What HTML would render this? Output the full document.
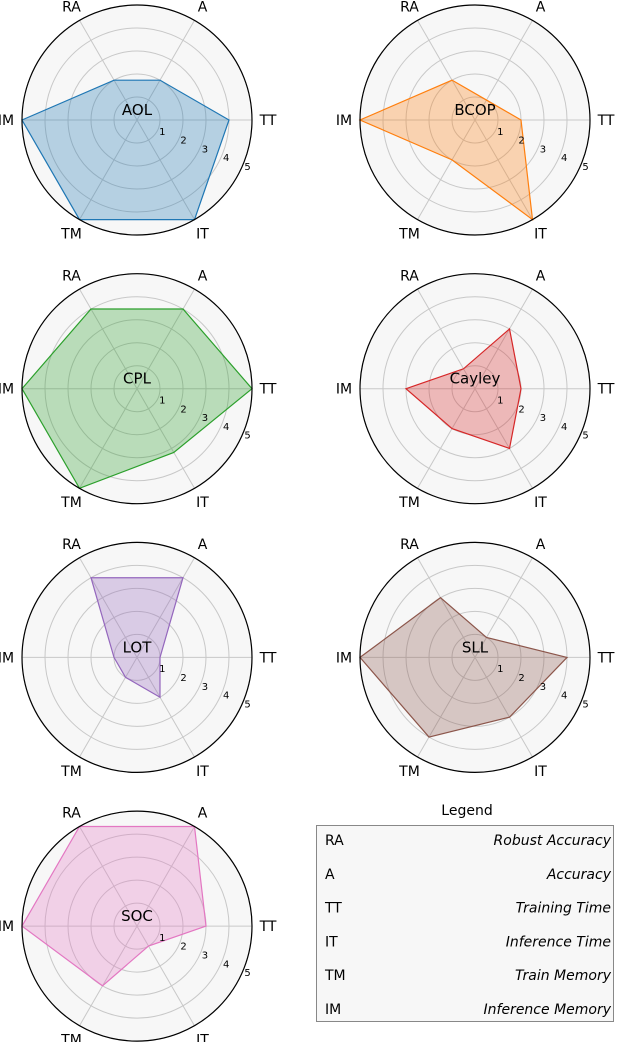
<!DOCTYPE html>
<html><head><meta charset="utf-8"><style>
body{margin:0;background:#fff;}
svg{display:block;font-family:"DejaVu Sans","Liberation Sans",sans-serif;}
</style></head><body>
<svg id="s" width="618" height="1042" viewBox="0 0 618 1042"></svg>
<script>
const axisLabels=["TT","A","RA","IM","TM","IT"];
const methods=["AOL","BCOP","CPL","Cayley","LOT","SLL","SOC"];
const colors=["#1f77b4","#ff7f0e","#2ca02c","#d62728","#9467bd","#8c564b","#e377c2"];
// values in order TT, A, RA, IM, TM, IT
const valAOL=[4,2,2,5,5,5];
const valBCOP=[2,1,2,5,2,5];
const valCPL=[5,4,4,5,5,3.2];
const valCayley=[2,3,1,3,2,3];
const valLOT=[1,4,4,1,1,2];
const valSLL=[4,1,3,5,4,3];
const valSOC=[3,5,5,5,3,1];
const allVals=[valAOL,valBCOP,valCPL,valCayley,valLOT,valSLL,valSOC];
const ringTicks=[1,2,3,4,5];
const legendKeys=["RA","A","TT","IT","TM","IM"];
const legendNames=["Robust Accuracy","Accuracy","Training Time","Inference Time","Train Memory","Inference Memory"];

const NS="http://www.w3.org/2000/svg";
const svg=document.getElementById('s');
function mk(tag,attrs,parent){const e=document.createElementNS(NS,tag);for(const k in attrs)e.setAttribute(k,attrs[k]);(parent||svg).appendChild(e);return e;}
const unit=23, rmax=5;
function rScale(v){return v*unit;}
function pt(cx,cy,i,v){const a=i*Math.PI/3;return [cx+rScale(v)*Math.cos(a),cy-rScale(v)*Math.sin(a)];}

methods.forEach((m,k)=>{
  const cx=k%2===0?137:475, cy=120+Math.floor(k/2)*268.7;
  const g=mk('g',{});
  
  
  mk('circle',{cx,cy,r:rScale(rmax),fill:'#f7f7f7'},g);
  ringTicks.forEach(t=>{
    const c=mk('circle',{cx,cy,r:rScale(t),fill:'none',stroke:'#c8c8c8','stroke-width':1},g);
    
    
  });
  axisLabels.forEach((lab,i)=>{
    const [x,y]=pt(cx,cy,i,rmax);
    const l=mk('line',{x1:cx,y1:cy,x2:x,y2:y,stroke:'#c8c8c8','stroke-width':1},g);
    
    
  });
  const pts=allVals[k].map((v,i)=>pt(cx,cy,i,v).join(',')).join(' ');
  const p=mk('polygon',{points:pts,fill:colors[k],'fill-opacity':0.3,stroke:colors[k],'stroke-width':1.2},g);
  
  
  const oc=mk('circle',{cx,cy,r:rScale(rmax),fill:'none',stroke:'#000','stroke-width':1.2},g);
  
  
  ringTicks.forEach(t=>{
    const tx=mk('text',{x:cx+4+21.3*t,y:cy+6+8.8*t,'font-size':10,'text-anchor':'middle',fill:'#000'},g);
    tx.textContent=t;
    
    
  });
  axisLabels.forEach((lab,i)=>{
    const a=i*Math.PI/3;
    const x=cx+131*Math.cos(a), y=cy-131*Math.sin(a)+5;
    const tx=mk('text',{x,y,'font-size':14,'text-anchor':'middle',fill:'#000'},g);
    tx.textContent=lab;
    
    
  });
  const tt=mk('text',{x:cx,y:cy-5,'font-size':15,'text-anchor':'middle',fill:'#000'},g);
  tt.textContent=m;
  
  
});

const lg=mk('g',{});


const lt=mk('text',{x:467,y:815,'font-size':14,'text-anchor':'middle'},lg);
lt.textContent='Legend';


const lb=mk('rect',{x:316.5,y:825.5,width:297,height:196,fill:'#f7f7f7',stroke:'#888','stroke-width':1},lg);


legendKeys.forEach((key,i)=>{
  const y=845+i*33.8;
  const a=mk('text',{x:325,y,'font-size':14},lg);
  a.textContent=key;
  
  
  const b=mk('text',{x:611,y,'font-size':14,'text-anchor':'end','font-style':'italic'},lg);
  b.textContent=legendNames[i];
  
  
});
</script>
</body></html>
